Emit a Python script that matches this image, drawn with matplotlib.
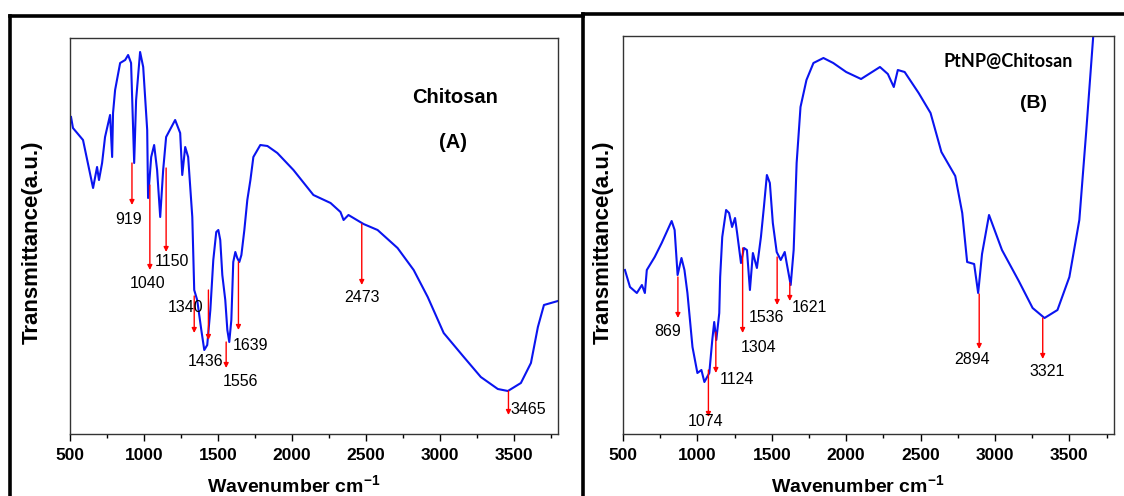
import matplotlib
matplotlib.use("Agg")
import matplotlib.pyplot as plt
from matplotlib.lines import Line2D
from matplotlib.ticker import MultipleLocator

plt.rcParams['font.family'] = ['Liberation Sans', 'DejaVu Sans']
plt.rcParams['mathtext.fontset'] = 'custom'
plt.rcParams['mathtext.rm'] = 'Liberation Sans'
plt.rcParams['mathtext.bf'] = 'Liberation Sans:bold'

# spectrum A: chitosan (wavenumber, transmittance a.u.)
wn_a = [507, 520, 588, 656, 683, 696, 717, 737, 771, 785, 791, 805, 839, 873, 893, 913,
        934, 947, 974, 995, 1022, 1028, 1049, 1069, 1089, 1110, 1130, 1150, 1211, 1245,
        1259, 1279, 1299, 1327, 1340, 1360, 1388, 1408, 1428, 1449, 1469, 1489, 1503,
        1516, 1530, 1550, 1564, 1577, 1591, 1604, 1618, 1631, 1645, 1659, 1679, 1699,
        1720, 1740, 1787, 1835, 1902, 2011, 2146, 2262, 2329, 2350, 2383, 2485, 2580,
        2715, 2824, 2919, 3027, 3163, 3278, 3393, 3461, 3549, 3617, 3664, 3705, 3799]
tr_a = [317, 306, 294, 246, 267, 254, 271, 297, 319, 277, 321, 344, 371, 374, 379, 371,
        271, 334, 382, 367, 304, 236, 277, 289, 264, 217, 264, 297, 314, 301,
        259, 287, 277, 217, 144, 134, 104, 84, 89, 124, 174, 202, 204,
        194, 159, 134, 104, 92, 114, 172, 182, 176, 172, 179, 204, 234,
        254, 277, 289, 288, 281, 264, 239, 231, 222, 214, 219, 210, 204,
        186, 164, 137, 101, 77, 57, 45, 43, 51, 71, 107, 129, 133]

# spectrum B: PtNP@Chitosan
wn_b = [513, 547, 593, 627, 647, 660, 713, 760, 827, 847, 867, 893, 913, 933, 967, 1000,
        1027, 1047, 1080, 1100, 1113, 1127, 1147, 1153, 1167, 1193, 1213, 1233, 1253,
        1267, 1293, 1313, 1333, 1353, 1373, 1400, 1427, 1447, 1467, 1487, 1507, 1533,
        1560, 1587, 1600, 1627, 1647, 1667, 1693, 1733, 1780, 1847, 1913, 2000, 2100,
        2227, 2280, 2320, 2347, 2393, 2487, 2567, 2640, 2733, 2780, 2813, 2860, 2887,
        2913, 2960, 3047, 3160, 3253, 3333, 3420, 3500, 3567, 3613, 3660, 3680]
tr_b = [164, 147, 141, 149, 141, 164, 177, 191, 213, 204, 159, 176, 164, 141, 87, 61,
        64, 52, 61, 94, 112, 94, 121, 157, 197, 224, 221, 207, 216,
        201, 171, 186, 184, 144, 181, 166, 197, 227, 259, 251, 211, 182,
        174, 182, 171, 149, 184, 271, 327, 354, 371, 376, 371, 362, 355,
        367, 360, 347, 364, 362, 341, 321, 282, 258, 221, 172, 170, 141,
        180, 219, 184, 153, 126, 116, 124, 157, 214, 302, 397, 424]

# peak marks: label, arrow start, arrow end, text x, text y
peaks_a = [
    ("919", 271, 229, 893, 214),
    ("1040", 249, 164, 1022, 151),
    ("1150", 266, 182, 1191, 172),
    ("1340", 138, 101, 1279, 127),
    ("1436", 144, 94, 1415, 72),
    ("1556", 92, 66, 1652, 53),
    ("1639", 172, 104, 1720, 88),
    ("2473", 210, 149, 2473, 137),
    ("3465", 43, 19, 3596, 25),
]
peaks_b = [
    ("869", 157, 116, 800, 102),
    ("1074", 64, 17, 1053, 12),
    ("1124", 102, 61, 1267, 54),
    ("1304", 186, 101, 1413, 86),
    ("1536", 177, 129, 1467, 117),
    ("1621", 151, 133, 1753, 126),
    ("2894", 140, 85, 2847, 75),
    ("3321", 116, 75, 3353, 63),
]

W, H = 1124, 496


def fx(px):
    return px / W


def fy(py):
    return (H - py) / H


fig = plt.figure(figsize=(W / 100, H / 100), dpi=100)


def make_panel(rect, wn, tr, peaks, ytop):
    ax = fig.add_axes(rect)
    ax.plot(wn, tr, color='#0a14f0', lw=1.5)
    for lab, t0, t1, tx, ty in peaks:
        w = float(lab)
        ax.annotate('', xy=(w, t1), xytext=(w, t0),
                    arrowprops=dict(arrowstyle='-|>', color='red', lw=1.0,
                                    mutation_scale=7, shrinkA=0, shrinkB=0))
        ax.text(tx, ty, lab, ha='center', va='center', fontsize=11.5)
    ax.set_xlim(500, 3800)
    ax.set_ylim(0, ytop)
    ax.set_xticks(range(500, 4000, 500))
    ax.xaxis.set_minor_locator(MultipleLocator(250))
    ax.set_yticks([])
    ax.tick_params(axis='x', which='major', direction='out', length=5, width=1, pad=5)
    ax.tick_params(axis='x', which='minor', direction='out', length=3, width=1)
    for lab in ax.get_xticklabels():
        lab.set_fontweight('bold')
        lab.set_fontsize(12.5)
    for sp in ax.spines.values():
        sp.set_color('#333333')
        sp.set_linewidth(1)
    return ax


ax1 = make_panel([fx(70), fy(434), fx(558) - fx(70), fy(38) - fy(434)], wn_a, tr_a, peaks_a, 396)
ax2 = make_panel([fx(623), fy(434), fx(1114) - fx(623), fy(36) - fy(434)], wn_b, tr_b, peaks_b, 398)

ax1.text(0.79, 0.85, "Chitosan", transform=ax1.transAxes, ha='center', va='center',
         fontsize=14.5, fontweight='bold')
ax1.text(0.785, 0.737, "(A)", transform=ax1.transAxes, ha='center', va='center',
         fontsize=14.5, fontweight='bold')
ax2.text(0.785, 0.935, "PtNP@Chitosan", transform=ax2.transAxes, ha='center', va='center',
         fontsize=13, fontweight='bold', family=['Lato', 'DejaVu Sans'])
ax2.text(0.837, 0.83, "(B)", transform=ax2.transAxes, ha='center', va='center',
         fontsize=14, fontweight='bold')

for x in (294, 858):
    fig.text(fx(x), fy(486), r'Wavenumber cm$^{\mathbf{-1}}$', ha='center', va='center',
             fontsize=14, fontweight='bold')
for x in (32, 603):
    fig.text(fx(x), fy(242), 'Transmittance(a.u.)', ha='center', va='center',
             rotation=90, fontsize=16, fontweight='bold')

# outer frames
frame = dict(color='black', lw=2.6, transform=fig.transFigure, solid_capstyle='projecting')
fig.add_artist(Line2D([fx(10), fx(583)], [fy(15.5), fy(15.5)], **frame))
fig.add_artist(Line2D([fx(10), fx(10)], [fy(15.5), fy(500)], **frame))
fig.add_artist(Line2D([fx(583), fx(583)], [fy(13.5), fy(500)], **frame))
fig.add_artist(Line2D([fx(583), fx(1130)], [fy(13.5), fy(13.5)], **frame))

fig.savefig("out.png", dpi=100)
